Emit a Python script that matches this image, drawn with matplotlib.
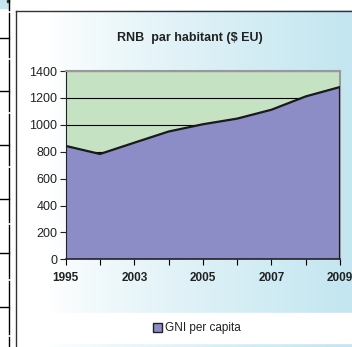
import numpy as np
import matplotlib.pyplot as plt
from matplotlib.patches import Rectangle
from matplotlib.lines import Line2D

plt.rcParams["font.family"] = ["Liberation Sans", "DejaVu Sans"]

# Données
annees = ["1995", "2002", "2003", "2004", "2005", "2006", "2007", "2008", "2009"]
etiquettes_x = ["1995", "", "2003", "", "2005", "", "2007", "", "2009"]
rnb = [843, 783, 867, 950, 1004, 1046, 1112, 1211, 1281]
y_ticks = [0, 200, 400, 600, 800, 1000, 1200, 1400]

W, H = 352, 347
fig = plt.figure(figsize=(W / 100, H / 100), dpi=100)
fig.patch.set_facecolor("white")

# Fond : dégradé blanc -> bleu clair, cadre et morceaux de tableau à gauche
bg = fig.add_axes([0, 0, 1, 1], zorder=-5)
bg.set_xlim(0, W)
bg.set_ylim(H, 0)
bg.axis("off")

xs = np.linspace(16, W, 300)
t = np.clip((xs - 50) / (W - 50), 0, 1) ** 0.8
bleu = np.array([195, 230, 240]) / 255
grad = np.ones((1, len(xs), 3)) * (1 - t[None, :, None]) + bleu * t[None, :, None]
bg.imshow(grad, extent=[16, W, H, 10.5], aspect="auto", zorder=0)
bg.add_patch(Rectangle((50, 313), W - 50, 30, color="white", zorder=1))

# cadre du graphique
bg.add_line(Line2D([15.7, 15.7], [10.5, H], color="#333333", lw=1.0, zorder=3))
bg.add_line(Line2D([15.7, W], [10.5, 10.5], color="#333333", lw=1.0, zorder=3))

# fragments du tableau voisin
bg.add_patch(Rectangle((0, 0), 8.5, 7.5, color="#c5e6ee", zorder=2))
bg.add_patch(Rectangle((6.5, 0), 2, 2, color="#333333", zorder=3))
coupures = [10, 57, 111, 165, 222, 278, 334]
debut = 0
for c in coupures:
    bg.add_line(Line2D([9.3, 9.3], [debut, c], color="black", lw=1.0, zorder=3))
    debut = c + 3
bg.add_line(Line2D([9.3, 9.3], [debut, H], color="black", lw=1.0, zorder=3))
for yy in [37.5, 91, 145, 199, 253, 307]:
    bg.add_line(Line2D([0, 9.3], [yy, yy], color="black", lw=1.0, zorder=3))

# Graphique en aires
ax = fig.add_axes([65.7 / W, 1 - 259.3 / H, (340 - 65.7) / W, 188.3 / H])
ax.set_facecolor("#c5e3c3")
x = np.arange(len(annees))
ax.fill_between(x, 0, rnb, facecolor="#8c8cc6", edgecolor="none", zorder=2,
                label="GNI per capita")
ax.plot(np.r_[x, x[-1]], np.r_[rnb, 0], color="#1a1a1a", lw=1.6, zorder=3,
        solid_joinstyle="miter")

ax.set_xlim(0, len(annees) - 1)
ax.set_ylim(0, 1400)
ax.set_yticks(y_ticks)
ax.set_xticks(x)
ax.set_xticklabels(etiquettes_x, fontsize=8.5, fontweight="bold", color="#222222")
ax.tick_params(axis="y", labelsize=9, length=4, pad=2, colors="#222222")
ax.tick_params(axis="x", length=4, pad=5)
ax.yaxis.grid(True, color="black", lw=0.8, zorder=1)
ax.set_axisbelow(True)

for s in ["top", "right"]:
    ax.spines[s].set_color("#999999")
    ax.spines[s].set_linewidth(1.5)
ax.spines["left"].set_color("#222222")
ax.spines["bottom"].set_color("#222222")
ax.spines["bottom"].set_linewidth(1.2)

fig.text(189.5 / W, 1 - 37.7 / H, "RNB  par habitant ($ EU)", ha="center",
         va="center", fontsize=9, fontweight="bold", color="#222222")

poignee = Rectangle((0, 0), 1, 1, facecolor="#8c8cc6", edgecolor="#222222", lw=1.0)
fig.legend([poignee], ["GNI per capita"], loc="center",
           bbox_to_anchor=(197 / W, 1 - 328.3 / H), frameon=False, fontsize=8.5,
           handlelength=0.75, handleheight=0.75, handletextpad=0.25,
           labelcolor="#222222")

fig.savefig("out.png", dpi=100)
